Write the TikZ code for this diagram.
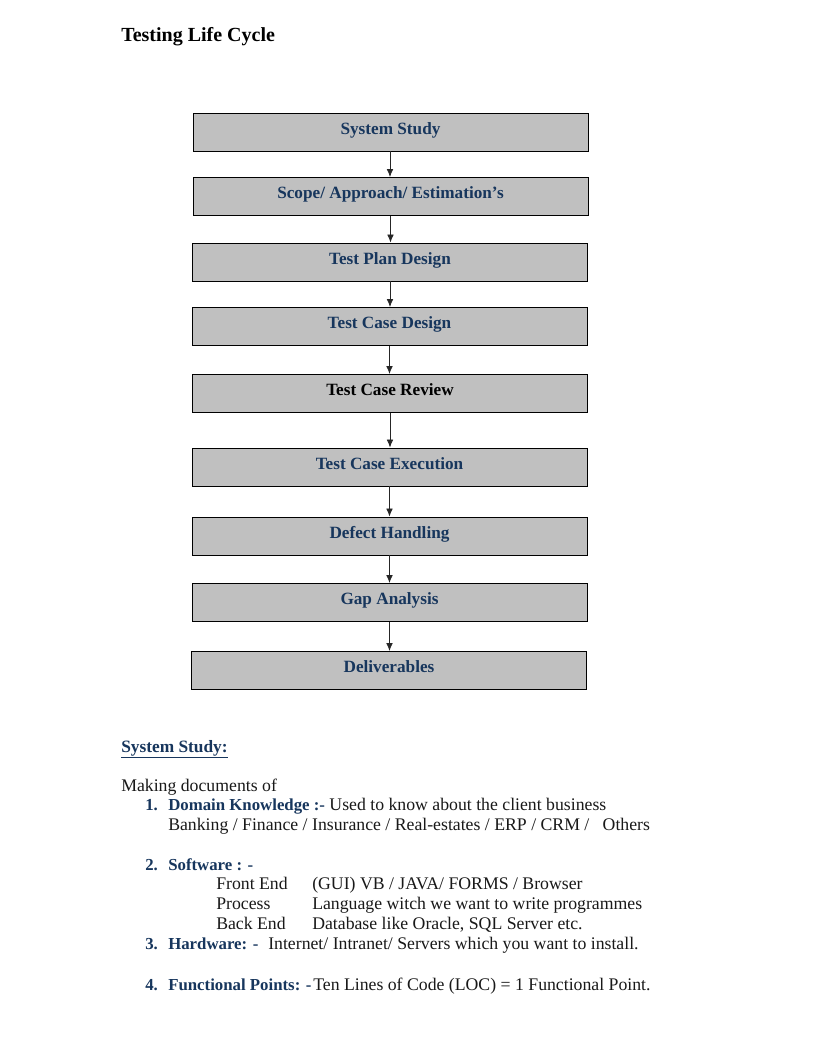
\documentclass[tikz,border=0pt]{standalone}
\usepackage{fontspec}
\setmainfont{Liberation Serif}
\usetikzlibrary{arrows.meta}
\definecolor{navy}{RGB}{23,54,93}
\definecolor{boxgray}{RGB}{192,192,192}
\definecolor{ink}{RGB}{25,25,25}
\begin{document}
\begin{tikzpicture}[x=0.75pt,y=-0.75pt,
  stagebox/.style={draw=black, line width=0.7pt, fill=boxgray, minimum width=296.25pt, minimum height=28.5pt, inner sep=0pt, text height=8pt, text depth=4.5pt, font=\fontsize{12.9}{15}\selectfont\bfseries, text=navy},
  arr/.style={-{Latex[length=6pt,width=5pt]}, line width=0.6pt, draw=black!85},
  txt/.style={anchor=base west, inner sep=0pt, font=\fontsize{13.3}{15}\selectfont, text=ink},
  btxt/.style={anchor=base west, inner sep=0pt, font=\fontsize{12.6}{15}\selectfont\bfseries, text=navy}]
\useasboundingbox (0,0) rectangle (816,1056);
\fill[white] (0,0) rectangle (816,1056);

\node[anchor=base west, inner sep=0pt, font=\fontsize{15}{17}\selectfont\bfseries, text=black] (title) at (121,42) {Testing Life Cycle};

\node[stagebox] (b1) at (390.5,132) {System Study};
\node[stagebox] (b2) at (390.5,196.5) {Scope/ Approach/ Estimation's};
\node[stagebox] (b3) at (390,262) {Test Plan Design};
\node[stagebox] (b4) at (389.5,326.5) {Test Case Design};
\node[stagebox, text=black] (b5) at (390,393.5) {Test Case Review};
\node[stagebox] (b6) at (389.5,467) {Test Case Execution};
\node[stagebox] (b7) at (389.5,536) {Defect Handling};
\node[stagebox] (b8) at (389.5,602.5) {Gap Analysis};
\node[stagebox] (b9) at (389,670.5) {Deliverables};

\draw[arr] (390,151) coordinate (a1) -- (a1 |- b2.north);
\draw[arr] (b2.south) -- (b2.south |- b3.north);
\draw[arr] (b3.south) -- (b3.south |- b4.north);
\draw[arr] (b4.south) -- (b4.south |- b5.north);
\draw[arr] (b5.south) -- (b5.south |- b6.north);
\draw[arr] (b6.south) -- (b6.south |- b7.north);
\draw[arr] (b7.south) -- (b7.south |- b8.north);
\draw[arr] (b8.south) -- (b8.south |- b9.north);

\node[btxt, font=\fontsize{13}{15}\selectfont\bfseries] (hd) at (121,752) {\underline{System Study:}};
\node[txt] (intro) at (121,791) {Making documents of};

\node[btxt] (n1) at (145,810) {1.};
\node[txt] (l1) at (168,810) {\textcolor{navy}{\fontsize{12.6}{15}\selectfont\bfseries Domain Knowledge :-} Used to know about the client business};
\node[txt] (l1b) at (168,830) {Banking / Finance / Insurance / Real-estates / ERP / CRM /~~ Others};

\node[btxt] (n2) at (145,870) {2.};
\node[btxt] (l2) at (168,870) {Software : -};
\node[txt] (fe) at (216,889) {Front End};
\node[txt] (fev) at (312,889) {(GUI) VB / JAVA/ FORMS / Browser};
\node[txt] (pr) at (216,909) {Process};
\node[txt] (prv) at (312,909) {Language witch we want to write programmes};
\node[txt] (be) at (216,929) {Back End};
\node[txt] (bev) at (312,929) {Database like Oracle, SQL Server etc.};

\node[btxt] (n3) at (145,949) {3.};
\node[btxt] (l3) at (168,949) {Hardware: -};
\node[txt] (l3v) at (268,949) {Internet/ Intranet/ Servers which you want to install.};

\node[btxt] (n4) at (145,990) {4.};
\node[btxt] (l4) at (168,990) {Functional Points: -};
\node[txt] (l4v) at (313,990) {Ten Lines of Code (LOC) = 1 Functional Point.};
\end{tikzpicture}
\end{document}
